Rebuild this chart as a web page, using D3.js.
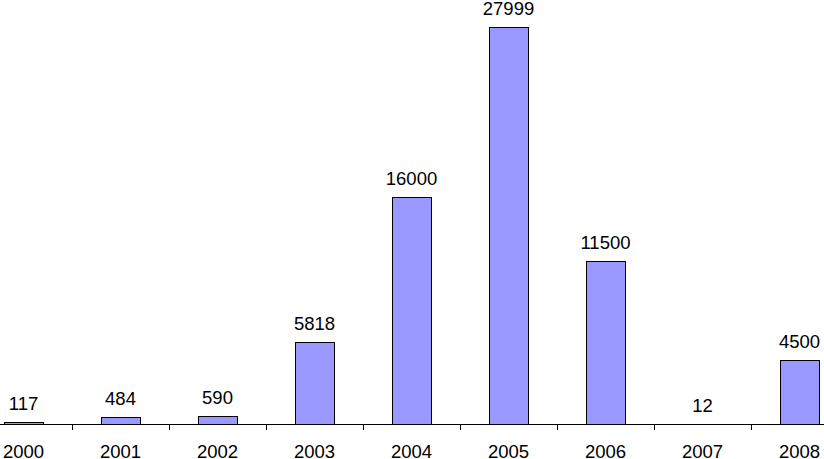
<!DOCTYPE html>
<html><head><meta charset="utf-8">
<script src="https://cdn.jsdelivr.net/npm/d3@7"></script>
<style>body{margin:0;background:#fff}svg{display:block}</style>
</head><body>
<script>
const categories = ["2000","2001","2002","2003","2004","2005","2006","2007","2008"];
const values = [117,484,590,5818,16000,27999,11500,12,4500];

const W = 824, H = 459;
const svg = d3.select("body").append("svg").attr("width", W).attr("height", H);
const baseY = 424;
const x = d3.scaleBand().domain(categories).range([-25, 848]).paddingInner(0.6).paddingOuter(0.3);
const y = d3.scaleLinear().domain([0, 27999]).range([baseY, 27]);
const font = "'Liberation Sans', Arial, sans-serif";

svg.selectAll("rect.bar").data(values).enter().append("rect")
  .attr("x", (d,i) => Math.round(x(categories[i])) + 0.5)
  .attr("y", d => Math.round(y(d)) + 0.5)
  .attr("width", Math.round(x.bandwidth()))
  .attr("height", d => Math.max(0, baseY - Math.round(y(d))))
  .attr("fill", "#9999FF").attr("stroke", "#000").attr("stroke-width", 1);

// axis line
svg.append("line").attr("x1", 0).attr("x2", W).attr("y1", baseY + 0.5).attr("y2", baseY + 0.5)
  .attr("stroke", "#000").attr("stroke-width", 1);

// ticks at category boundaries
const step = x.step();
const bounds = d3.range(1, categories.length).map(i => x.range()[0] + i * step);
svg.selectAll("line.tick").data(bounds).enter().append("line")
  .attr("x1", d => Math.round(d) + 0.5).attr("x2", d => Math.round(d) + 0.5)
  .attr("y1", baseY).attr("y2", baseY + 6)
  .attr("stroke", "#000").attr("stroke-width", 1);

// value labels
svg.selectAll("text.val").data(values).enter().append("text")
  .attr("x", (d,i) => x(categories[i]) + x.bandwidth()/2)
  .attr("y", d => y(d) - 12)
  .attr("text-anchor", "middle").attr("font-family", font).attr("font-size", 18.5)
  .attr("fill", "#000").text(d => d);

// category labels
svg.selectAll("text.cat").data(categories).enter().append("text")
  .attr("x", d => x(d) + x.bandwidth()/2)
  .attr("y", 458)
  .attr("text-anchor", "middle").attr("font-family", font).attr("font-size", 18.5)
  .attr("fill", "#000").text(d => d);
</script>
</body></html>
